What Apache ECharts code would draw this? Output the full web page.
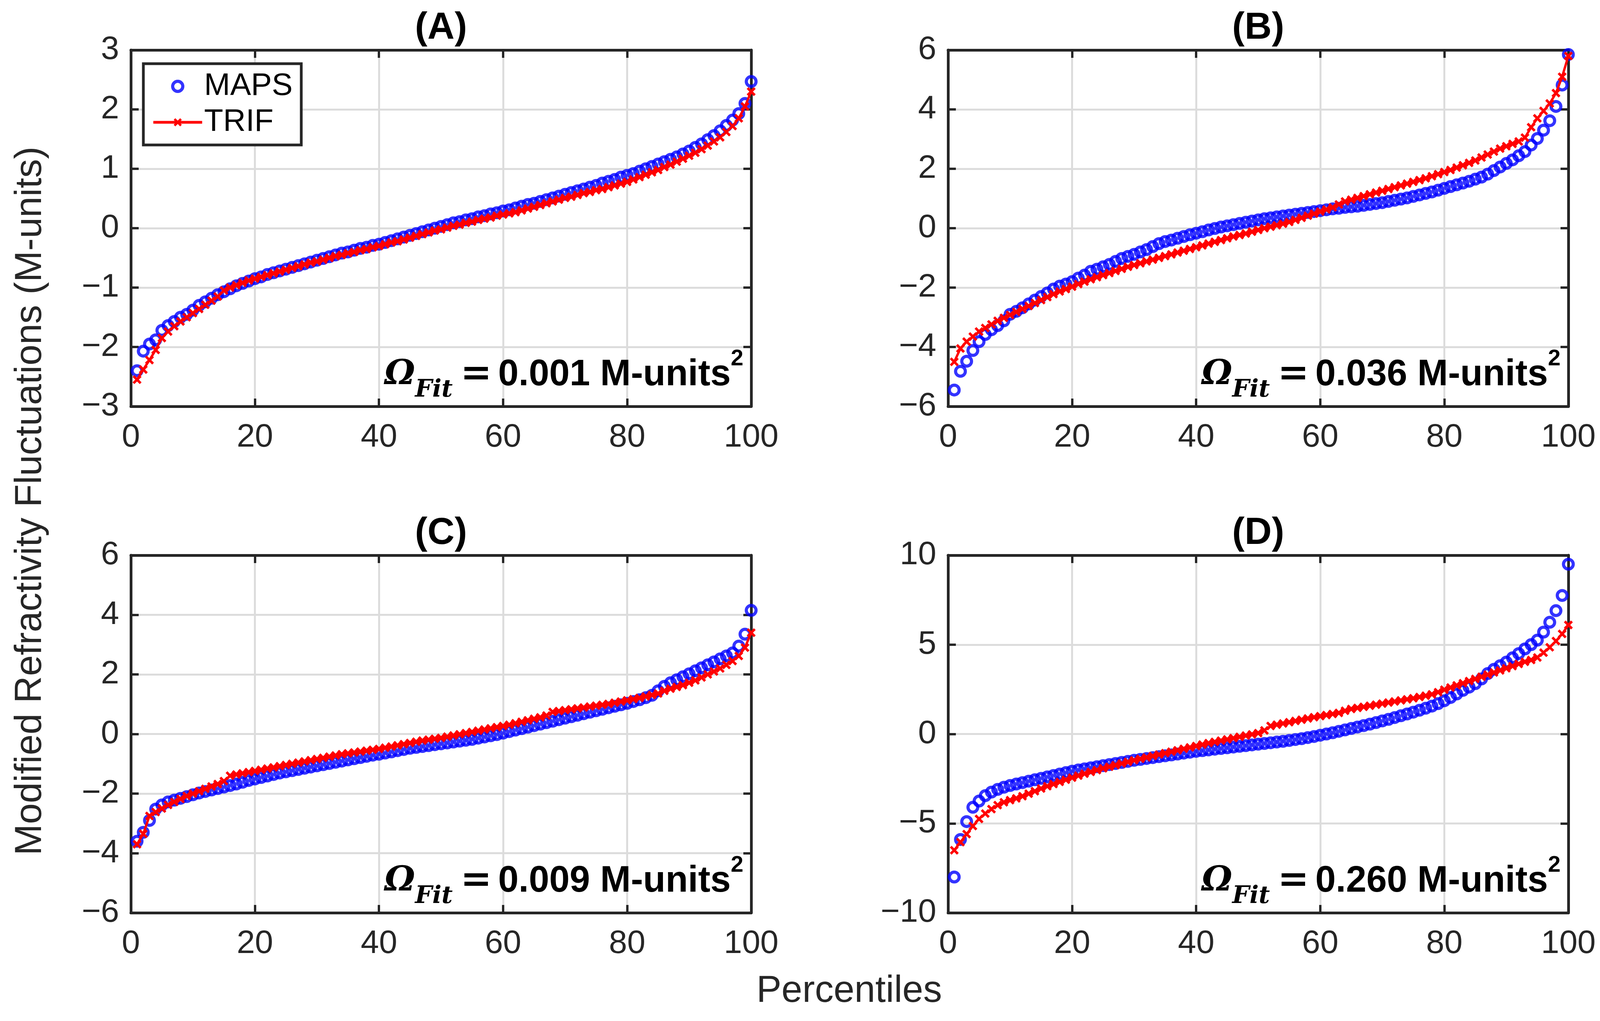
<!DOCTYPE html>
<html><head><meta charset="utf-8">
<script src="https://cdn.jsdelivr.net/npm/echarts@6/dist/echarts.min.js"></script>
<style>html,body{margin:0;padding:0;background:#fff}#c{width:4111px;height:2613px}</style>
</head><body><div id="c"></div>
<script>
// ---------------- DATA ----------------
const percentiles = [1,2,3,4,5,6,7,8,9,10,11,12,13,14,15,16,17,18,19,20,21,22,23,24,25,26,27,28,29,30,31,32,33,34,35,36,37,38,39,40,41,42,43,44,45,46,47,48,49,50,51,52,53,54,55,56,57,58,59,60,61,62,63,64,65,66,67,68,69,70,71,72,73,74,75,76,77,78,79,80,81,82,83,84,85,86,87,88,89,90,91,92,93,94,95,96,97,98,99,100];
const xTicks = [0,20,40,60,80,100];
const panelTitles = ['(A)','(B)','(C)','(D)'];
const fitValues = ['0.001','0.036','0.009','0.260'];
const seriesNames = ['MAPS','TRIF'];

const mapsA = [-2.40,-2.07,-1.95,-1.88,-1.72,-1.64,-1.57,-1.50,-1.45,-1.38,-1.30,-1.24,-1.18,-1.12,-1.07,-1.02,-0.97,-0.93,-0.89,-0.85,-0.82,-0.78,-0.75,-0.72,-0.69,-0.66,-0.63,-0.60,-0.57,-0.54,-0.51,-0.48,-0.45,-0.42,-0.40,-0.37,-0.34,-0.32,-0.29,-0.27,-0.24,-0.21,-0.18,-0.15,-0.12,-0.09,-0.06,-0.03,0.00,0.03,0.06,0.09,0.11,0.14,0.16,0.19,0.21,0.24,0.26,0.29,0.31,0.34,0.37,0.40,0.42,0.45,0.48,0.51,0.54,0.57,0.60,0.63,0.66,0.69,0.72,0.76,0.79,0.82,0.86,0.89,0.92,0.96,1.00,1.04,1.08,1.12,1.16,1.20,1.25,1.30,1.36,1.42,1.49,1.56,1.64,1.73,1.82,1.93,2.10,2.47];
const trifA = [-2.55,-2.38,-2.22,-2.05,-1.85,-1.74,-1.65,-1.57,-1.50,-1.43,-1.36,-1.29,-1.22,-1.15,-1.05,-1.00,-0.96,-0.92,-0.88,-0.85,-0.82,-0.79,-0.76,-0.73,-0.70,-0.67,-0.64,-0.61,-0.58,-0.56,-0.53,-0.50,-0.47,-0.45,-0.42,-0.40,-0.37,-0.35,-0.32,-0.30,-0.27,-0.24,-0.22,-0.19,-0.16,-0.13,-0.10,-0.07,-0.04,-0.02,0.01,0.04,0.06,0.09,0.11,0.14,0.16,0.18,0.21,0.23,0.25,0.27,0.30,0.33,0.36,0.39,0.42,0.45,0.48,0.51,0.53,0.56,0.59,0.61,0.64,0.66,0.69,0.72,0.75,0.78,0.82,0.86,0.90,0.94,0.98,1.03,1.07,1.12,1.17,1.22,1.27,1.33,1.39,1.46,1.53,1.62,1.72,1.85,2.05,2.30];

const mapsB = [-5.45,-4.82,-4.48,-4.12,-3.82,-3.58,-3.42,-3.28,-3.12,-2.90,-2.80,-2.68,-2.55,-2.42,-2.30,-2.18,-2.05,-1.95,-1.88,-1.80,-1.68,-1.58,-1.45,-1.38,-1.30,-1.22,-1.12,-1.02,-0.95,-0.88,-0.80,-0.72,-0.62,-0.52,-0.45,-0.40,-0.34,-0.28,-0.22,-0.17,-0.12,-0.06,-0.01,0.04,0.08,0.12,0.16,0.20,0.24,0.28,0.32,0.35,0.38,0.41,0.44,0.47,0.50,0.53,0.56,0.59,0.62,0.65,0.67,0.70,0.72,0.74,0.77,0.80,0.83,0.86,0.90,0.94,0.98,1.02,1.07,1.12,1.17,1.22,1.28,1.34,1.40,1.46,1.52,1.58,1.65,1.72,1.82,1.94,2.06,2.18,2.30,2.44,2.58,2.80,3.02,3.30,3.62,4.10,4.82,5.85];
const trifB = [-4.50,-4.05,-3.82,-3.65,-3.48,-3.36,-3.24,-3.12,-3.02,-2.92,-2.82,-2.72,-2.62,-2.52,-2.42,-2.32,-2.22,-2.13,-2.05,-1.97,-1.88,-1.80,-1.72,-1.65,-1.58,-1.51,-1.44,-1.37,-1.30,-1.24,-1.18,-1.12,-1.06,-1.00,-0.94,-0.88,-0.82,-0.76,-0.70,-0.64,-0.58,-0.52,-0.46,-0.40,-0.34,-0.28,-0.23,-0.18,-0.12,-0.06,0.00,0.05,0.10,0.15,0.21,0.28,0.35,0.42,0.49,0.56,0.63,0.70,0.80,0.90,0.96,1.02,1.08,1.14,1.20,1.26,1.32,1.38,1.44,1.50,1.56,1.62,1.68,1.75,1.82,1.89,1.96,2.04,2.12,2.20,2.28,2.38,2.48,2.58,2.68,2.76,2.84,2.92,3.05,3.40,3.70,3.95,4.20,4.55,5.10,5.80];

const mapsC = [-3.60,-3.30,-2.90,-2.52,-2.38,-2.28,-2.22,-2.16,-2.10,-2.04,-1.98,-1.93,-1.88,-1.83,-1.78,-1.73,-1.68,-1.62,-1.56,-1.51,-1.46,-1.41,-1.36,-1.31,-1.27,-1.23,-1.19,-1.15,-1.11,-1.07,-1.03,-0.99,-0.95,-0.91,-0.87,-0.83,-0.79,-0.75,-0.71,-0.68,-0.64,-0.60,-0.56,-0.52,-0.48,-0.45,-0.42,-0.39,-0.36,-0.33,-0.30,-0.27,-0.24,-0.21,-0.18,-0.14,-0.10,-0.06,-0.02,0.03,0.08,0.13,0.18,0.23,0.28,0.33,0.38,0.43,0.48,0.53,0.58,0.63,0.68,0.73,0.78,0.83,0.88,0.93,0.98,1.03,1.09,1.15,1.22,1.30,1.45,1.60,1.72,1.82,1.92,2.02,2.12,2.22,2.32,2.42,2.52,2.62,2.72,2.95,3.35,4.15];
const trifC = [-3.70,-3.35,-2.75,-2.62,-2.50,-2.38,-2.28,-2.18,-2.08,-2.00,-1.92,-1.84,-1.76,-1.68,-1.58,-1.40,-1.36,-1.32,-1.28,-1.24,-1.20,-1.16,-1.12,-1.08,-1.04,-1.00,-0.96,-0.92,-0.88,-0.84,-0.80,-0.76,-0.72,-0.68,-0.65,-0.62,-0.59,-0.56,-0.53,-0.50,-0.46,-0.42,-0.38,-0.34,-0.30,-0.26,-0.22,-0.19,-0.16,-0.13,-0.09,-0.05,-0.01,0.03,0.07,0.11,0.15,0.19,0.23,0.27,0.31,0.36,0.41,0.46,0.51,0.56,0.62,0.74,0.77,0.80,0.83,0.86,0.89,0.92,0.95,0.98,1.01,1.05,1.09,1.13,1.17,1.21,1.26,1.31,1.36,1.45,1.52,1.58,1.64,1.72,1.80,1.90,2.00,2.10,2.20,2.32,2.45,2.62,2.90,3.40];

const mapsD = [-8.00,-5.90,-4.90,-4.10,-3.75,-3.45,-3.25,-3.10,-2.98,-2.88,-2.80,-2.72,-2.64,-2.56,-2.48,-2.40,-2.32,-2.24,-2.16,-2.08,-2.01,-1.95,-1.89,-1.83,-1.77,-1.71,-1.65,-1.59,-1.53,-1.47,-1.42,-1.37,-1.32,-1.27,-1.22,-1.17,-1.12,-1.07,-1.02,-0.97,-0.93,-0.89,-0.85,-0.81,-0.77,-0.73,-0.69,-0.65,-0.61,-0.57,-0.53,-0.49,-0.45,-0.41,-0.36,-0.31,-0.26,-0.20,-0.14,-0.07,0.00,0.07,0.15,0.23,0.31,0.39,0.47,0.55,0.64,0.73,0.82,0.92,1.02,1.12,1.22,1.33,1.44,1.56,1.70,1.86,2.04,2.24,2.44,2.62,2.82,3.08,3.38,3.62,3.82,4.02,4.26,4.50,4.76,5.00,5.25,5.70,6.25,6.90,7.75,9.50];
const trifD = [-6.50,-6.05,-5.60,-5.15,-4.75,-4.45,-4.20,-3.98,-3.82,-3.70,-3.60,-3.48,-3.34,-3.20,-3.05,-2.92,-2.80,-2.68,-2.56,-2.44,-2.33,-2.22,-2.12,-2.02,-1.92,-1.83,-1.74,-1.65,-1.56,-1.47,-1.39,-1.31,-1.23,-1.15,-1.07,-0.99,-0.91,-0.83,-0.75,-0.67,-0.59,-0.51,-0.44,-0.37,-0.30,-0.23,-0.16,-0.09,-0.02,0.05,0.20,0.45,0.52,0.59,0.66,0.73,0.80,0.87,0.94,1.00,1.06,1.12,1.18,1.30,1.40,1.46,1.52,1.58,1.64,1.70,1.76,1.82,1.88,1.94,2.00,2.07,2.14,2.22,2.34,2.48,2.60,2.72,2.84,2.96,3.08,3.20,3.32,3.44,3.56,3.68,3.80,3.92,4.04,4.14,4.28,4.55,4.85,5.20,5.60,6.10];

const yRanges = [[-3,3,1],[-6,6,2],[-6,6,2],[-10,10,5]];
const mapsSets = [mapsA, mapsB, mapsC, mapsD];
const trifSets = [trifA, trifB, trifC, trifD];

// ---------------- LAYOUT / STYLE ----------------
const FONT = '"Liberation Sans", Arial, Helvetica, sans-serif';
const SERIF = '"DejaVu Serif", "Liberation Serif", serif';
const INK = '#262626';
const layout = [
  {left:335, top:128, width:1588, height:912},
  {left:2427, top:128, width:1588, height:912},
  {left:335, top:1421, width:1588, height:915},
  {left:2427, top:1421, width:1588, height:915}
];
const XMARK = 'path://M0,2 L2,0 L5,3 L8,0 L10,2 L7,5 L10,8 L8,10 L5,7 L2,10 L0,8 L3,5 Z';
const minusFmt = v => String(v).replace('-', '\u2212');

const grid = [], xAxis = [], yAxis = [], series = [], graphic = [];
layout.forEach((g, i) => {
  grid.push({left:g.left, top:g.top, width:g.width, height:g.height, containLabel:false});
  const axLine = {show:true, onZero:false, lineStyle:{color:INK, width:7}};
  const tick = {show:true, inside:true, length:20, lineStyle:{color:INK, width:6}};
  const split = {show:true, lineStyle:{color:'#dcdcdc', width:5}};
  xAxis.push({gridIndex:i, type:'value', min:xTicks[0], max:xTicks[xTicks.length-1], interval:xTicks[1]-xTicks[0], position:'bottom',
    axisLine:axLine, axisTick:tick, splitLine:split,
    axisLabel:{fontSize:84, color:INK, margin:38, fontFamily:FONT}});
  xAxis.push({gridIndex:i, type:'value', min:xTicks[0], max:xTicks[xTicks.length-1], interval:xTicks[1]-xTicks[0], position:'top',
    axisLine:axLine, axisTick:tick, splitLine:{show:false}, axisLabel:{show:false}});
  const yr = yRanges[i];
  yAxis.push({gridIndex:i, type:'value', min:yr[0], max:yr[1], interval:yr[2], position:'left',
    axisLine:axLine, axisTick:tick, splitLine:split,
    axisLabel:{fontSize:84, color:INK, margin:30, fontFamily:FONT, formatter:minusFmt}});
  yAxis.push({gridIndex:i, type:'value', min:yr[0], max:yr[1], interval:yr[2], position:'right',
    axisLine:axLine, axisTick:tick, splitLine:{show:false}, axisLabel:{show:false}});

  series.push({type:'scatter', name:seriesNames[0], xAxisIndex:2*i, yAxisIndex:2*i, z:2,
    data: percentiles.map((p,k)=>[p, mapsSets[i][k]]),
    symbol:'circle', symbolSize:25,
    itemStyle:{color:'rgba(0,0,0,0)', borderColor:'#0000ff', borderWidth:8}});
  series.push({type:'line', name:seriesNames[1], xAxisIndex:2*i, yAxisIndex:2*i, z:3,
    data: percentiles.map((p,k)=>[p, trifSets[i][k]]),
    symbol:XMARK, symbolSize:23, showSymbol:true, showAllSymbol:true,
    lineStyle:{color:'#ff0000', width:6}, itemStyle:{color:'#ff0000'}});

  // panel title
  graphic.push({type:'text', x:g.left + g.width/2, y:g.top - 55, z:10,
    style:{text:panelTitles[i], textAlign:'center', textVerticalAlign:'middle', fill:'#000',
      fontSize:96, fontWeight:'bold', fontFamily:FONT}});
  // fit annotation
  graphic.push({type:'text', x:g.left + g.width - 20, y:g.top + g.height - 80, z:10,
    style:{text:'{om|\u03A9}{sub|Fit}{eq|=}{b|' + fitValues[i] + ' M-units}{sup|2}',
      textAlign:'right', textVerticalAlign:'middle',
      rich:{
        om:{fontSize:88, fontStyle:'italic', fontWeight:'bold', fontFamily:SERIF, fill:'#000', lineHeight:140, verticalAlign:'middle'},
        sub:{fontSize:62, fontStyle:'italic', fontWeight:'bold', fontFamily:SERIF, fill:'#000', lineHeight:70, verticalAlign:'bottom'},
        eq:{fontSize:96, fontWeight:'bold', fontFamily:SERIF, fill:'#000', lineHeight:140, verticalAlign:'middle', padding:[0,16,0,20]},
        b:{fontSize:94, fontWeight:'bold', fontFamily:FONT, fill:'#000', lineHeight:140, verticalAlign:'middle'},
        sup:{fontSize:58, fontWeight:'bold', fontFamily:FONT, fill:'#000', lineHeight:80, verticalAlign:'top'}
      }}});
});

graphic.push({type:'text', x:2174, y:2538, z:10,
  style:{text:'Percentiles', textAlign:'center', textVerticalAlign:'middle', fill:INK, fontSize:96, fontFamily:FONT}});
graphic.push({type:'text', x:79, y:1282, rotation:Math.PI/2, z:10,
  style:{text:'Modified Refractivity Fluctuations (M-units)', textAlign:'center', textVerticalAlign:'middle', fill:INK, fontSize:96, fontFamily:FONT}});

const chart = echarts.init(document.getElementById('c'), null, {renderer:'canvas'});
chart.setOption({
  animation:false,
  backgroundColor:'#ffffff',
  grid, xAxis, yAxis, series, graphic,
  legend:{
    data:[
      {name:seriesNames[0], icon:'circle', itemStyle:{color:'rgba(0,0,0,0)', borderColor:'#0000ff', borderWidth:8}},
      {name:seriesNames[1], lineStyle:{color:'#ff0000', width:7}, itemStyle:{color:'#ff0000'}}
    ],
    orient:'vertical', left:367, top:163,
    itemWidth:125, itemHeight:26, itemGap:12, padding:[18,22,18,22],
    borderColor:INK, borderWidth:7, backgroundColor:'#ffffff',
    textStyle:{fontSize:80, color:'#000', fontFamily:FONT}}
});
</script></body></html>
